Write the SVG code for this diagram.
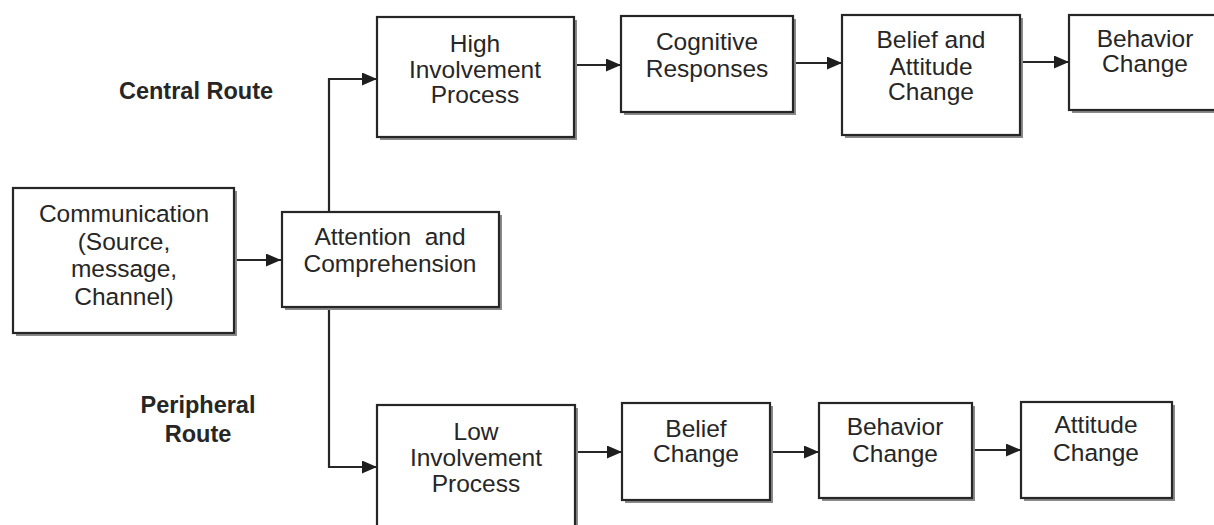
<svg xmlns="http://www.w3.org/2000/svg" width="1214" height="525" viewBox="0 0 1214 525">
  <style>
    .box { fill: #ffffff; stroke: #262626; stroke-width: 2.2; }
    .shadow { fill: #8a8a8a; }
    .lbl { font-family: "Liberation Sans", Arial, sans-serif; font-size: 24.5px; fill: #262626; text-anchor: middle; }
    .route { font-family: "Liberation Sans", Arial, sans-serif; font-size: 23.5px; font-weight: bold; fill: #262626; text-anchor: middle; }
    .wire { fill: none; stroke: #262626; stroke-width: 2.2; }
  </style>
  <defs>
    <marker id="head" viewBox="0 0 15 13" refX="15" refY="6.5" markerWidth="15" markerHeight="13" markerUnits="userSpaceOnUse" orient="auto">
      <path d="M0,0 L15,6.5 L0,13 Z" fill="#1e1e1e"/>
    </marker>
  </defs>
  <rect width="1214" height="525" fill="#ffffff"/>

  <!-- route captions -->
  <text class="route" x="196" y="99">Central Route</text>
  <text class="route" x="198" y="413">Peripheral</text>
  <text class="route" x="198" y="442">Route</text>

  <!-- connectors -->
  <g id="connectors">
    <line class="wire" x1="235" y1="260" x2="281" y2="260" marker-end="url(#head)"/>
    <polyline class="wire" points="329,212 329,79 377,79" marker-end="url(#head)"/>
    <polyline class="wire" points="329,308 329,467 377,467" marker-end="url(#head)"/>
    <line class="wire" x1="575" y1="65" x2="621" y2="65" marker-end="url(#head)"/>
    <line class="wire" x1="794" y1="63" x2="842" y2="63" marker-end="url(#head)"/>
    <line class="wire" x1="1021" y1="62" x2="1069" y2="62" marker-end="url(#head)"/>
    <line class="wire" x1="576" y1="452" x2="622" y2="452" marker-end="url(#head)"/>
    <line class="wire" x1="771" y1="452" x2="819" y2="452" marker-end="url(#head)"/>
    <line class="wire" x1="973" y1="450" x2="1021" y2="450" marker-end="url(#head)"/>
  </g>

  <g id="communication">
    <rect class="shadow" x="16" y="191" width="221" height="145"/>
    <rect class="box" x="13" y="188" width="221" height="145"/>
    <text class="lbl" x="124" y="222">Communication</text>
    <text class="lbl" x="124" y="250">(Source,</text>
    <text class="lbl" x="124" y="277">message,</text>
    <text class="lbl" x="124" y="305">Channel)</text>
  </g>

  <g id="attention">
    <rect class="shadow" x="285" y="215" width="217" height="95"/>
    <rect class="box" x="282" y="212" width="217" height="95"/>
    <text class="lbl" x="390" y="245" xml:space="preserve">Attention  and</text>
    <text class="lbl" x="390" y="272">Comprehension</text>
  </g>

  <g id="high-involvement">
    <rect class="shadow" x="380" y="20" width="197" height="120"/>
    <rect class="box" x="377" y="17" width="197" height="120"/>
    <text class="lbl" x="475" y="52">High</text>
    <text class="lbl" x="475" y="78">Involvement</text>
    <text class="lbl" x="475" y="103">Process</text>
  </g>

  <g id="cognitive-responses">
    <rect class="shadow" x="624" y="19" width="172" height="96"/>
    <rect class="box" x="621" y="16" width="172" height="96"/>
    <text class="lbl" x="707" y="50">Cognitive</text>
    <text class="lbl" x="707" y="77">Responses</text>
  </g>

  <g id="belief-attitude-change">
    <rect class="shadow" x="845" y="18" width="178" height="120"/>
    <rect class="box" x="842" y="15" width="178" height="120"/>
    <text class="lbl" x="931" y="48">Belief and</text>
    <text class="lbl" x="931" y="75">Attitude</text>
    <text class="lbl" x="931" y="100">Change</text>
  </g>

  <g id="behavior-change-top">
    <rect class="shadow" x="1072" y="18" width="152" height="95"/>
    <rect class="box" x="1069" y="15" width="152" height="95"/>
    <text class="lbl" x="1145" y="47">Behavior</text>
    <text class="lbl" x="1145" y="72">Change</text>
  </g>

  <g id="low-involvement">
    <rect class="shadow" x="380" y="408" width="198" height="130"/>
    <rect class="box" x="377" y="405" width="198" height="130"/>
    <text class="lbl" x="476" y="440">Low</text>
    <text class="lbl" x="476" y="466">Involvement</text>
    <text class="lbl" x="476" y="492">Process</text>
  </g>

  <g id="belief-change">
    <rect class="shadow" x="625" y="406" width="148" height="97"/>
    <rect class="box" x="622" y="403" width="148" height="97"/>
    <text class="lbl" x="696" y="437">Belief</text>
    <text class="lbl" x="696" y="462">Change</text>
  </g>

  <g id="behavior-change-bottom">
    <rect class="shadow" x="822" y="406" width="153" height="95"/>
    <rect class="box" x="819" y="403" width="153" height="95"/>
    <text class="lbl" x="895" y="435">Behavior</text>
    <text class="lbl" x="895" y="462">Change</text>
  </g>

  <g id="attitude-change">
    <rect class="shadow" x="1024" y="405" width="151" height="96"/>
    <rect class="box" x="1021" y="402" width="151" height="96"/>
    <text class="lbl" x="1096" y="433">Attitude</text>
    <text class="lbl" x="1096" y="461">Change</text>
  </g>
</svg>
